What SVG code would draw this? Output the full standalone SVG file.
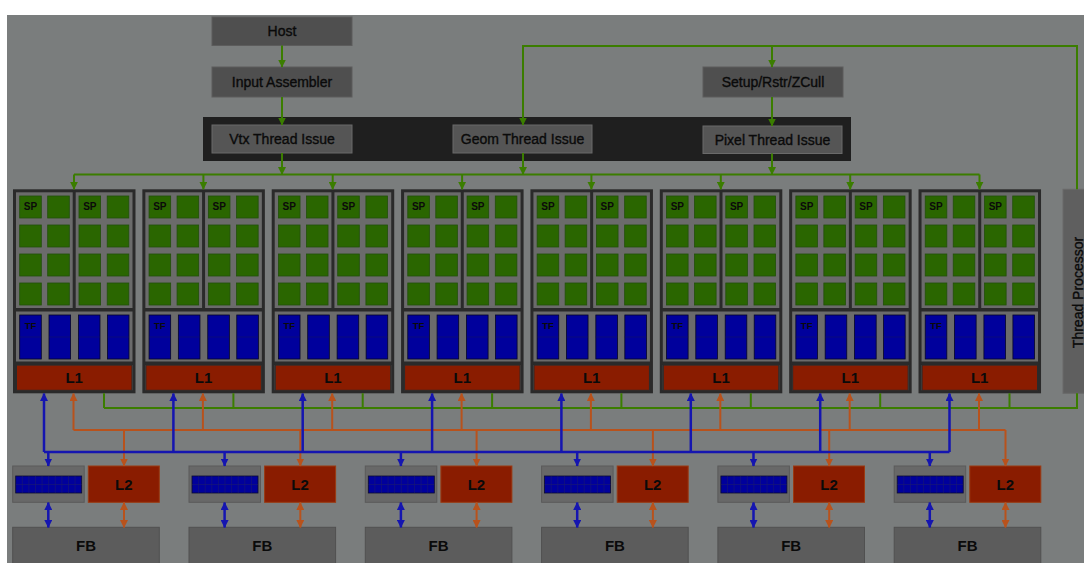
<svg xmlns="http://www.w3.org/2000/svg" xmlns:xlink="http://www.w3.org/1999/xlink" width="1084" height="563" viewBox="0 0 1084 563">
<style>
text{font-family:"Liberation Sans",Arial,sans-serif;fill:#0a0a0a;text-anchor:middle}
.lbl{font-size:14px;stroke:#0a0a0a;stroke-width:0.35}
.big{font-size:15px;font-weight:bold}
.sp{font-size:10px;font-weight:bold}
.tf{font-size:9.5px;font-weight:bold}
.box{fill:#4f4f4f;stroke:#5c5c5c;stroke-width:1}
.ibox{fill:#555;stroke:#6a6a6a;stroke-width:1}
.cell{fill:#2a6600;stroke:#22500a;stroke-width:0.8}
.tfb{fill:#00009c;stroke:#05052a;stroke-width:0.8}
.red{fill:#8a1c00;stroke:#9a3a12;stroke-width:1}
.g{fill:none;stroke:#3b7d00;stroke-width:2}
.b{fill:none;stroke:#1515b0;stroke-width:2.5}
.o{fill:none;stroke:#b8521c;stroke-width:2}
.ga{marker-end:url(#ag)}
.ba{marker-end:url(#ab)}
.oa{marker-end:url(#ao)}
.bd{marker-start:url(#ab);marker-end:url(#ab)}
.od{marker-start:url(#ao);marker-end:url(#ao)}
</style>
<defs>
<marker id="ag" viewBox="0 0 8 8" refX="7.5" refY="4" markerWidth="8" markerHeight="8" markerUnits="userSpaceOnUse" orient="auto-start-reverse"><path d="M0,0 L8,4 L0,8 z" fill="#3b7d00"/></marker>
<marker id="ab" viewBox="0 0 8 8" refX="7.5" refY="4" markerWidth="8" markerHeight="8" markerUnits="userSpaceOnUse" orient="auto-start-reverse"><path d="M0,0 L8,4 L0,8 z" fill="#1515b0"/></marker>
<marker id="ao" viewBox="0 0 8 8" refX="7.5" refY="4" markerWidth="8" markerHeight="8" markerUnits="userSpaceOnUse" orient="auto-start-reverse"><path d="M0,0 L8,4 L0,8 z" fill="#b8521c"/></marker>
<g id="cb">
<rect x="1.5" y="1.5" width="119.5" height="201" fill="#6b6b6b" stroke="#2a2a2a" stroke-width="3"/>
<line x1="61.2" y1="1.5" x2="61.2" y2="120.4" stroke="#2a2a2a" stroke-width="3"/>
<line x1="1.5" y1="120.4" x2="121" y2="120.4" stroke="#2a2a2a" stroke-width="3.5"/>
<line x1="1.5" y1="174" x2="121" y2="174" stroke="#2a2a2a" stroke-width="3.5"/>
<rect class="cell" x="6.7" y="6.7" width="21.6" height="22"/><rect class="cell" x="34.7" y="6.7" width="21.6" height="22"/><rect class="cell" x="66" y="6.7" width="21.6" height="22"/><rect class="cell" x="94.2" y="6.7" width="21.6" height="22"/>
<rect class="cell" x="6.7" y="35.7" width="21.6" height="22"/><rect class="cell" x="34.7" y="35.7" width="21.6" height="22"/><rect class="cell" x="66" y="35.7" width="21.6" height="22"/><rect class="cell" x="94.2" y="35.7" width="21.6" height="22"/>
<rect class="cell" x="6.7" y="64.7" width="21.6" height="22"/><rect class="cell" x="34.7" y="64.7" width="21.6" height="22"/><rect class="cell" x="66" y="64.7" width="21.6" height="22"/><rect class="cell" x="94.2" y="64.7" width="21.6" height="22"/>
<rect class="cell" x="6.7" y="93.7" width="21.6" height="22"/><rect class="cell" x="34.7" y="93.7" width="21.6" height="22"/><rect class="cell" x="66" y="93.7" width="21.6" height="22"/><rect class="cell" x="94.2" y="93.7" width="21.6" height="22"/>
<rect class="tfb" x="6.7" y="125.7" width="21.6" height="44"/><rect class="tfb" x="36" y="125.7" width="21.6" height="44"/><rect class="tfb" x="65.4" y="125.7" width="21.6" height="44"/><rect class="tfb" x="94.4" y="125.7" width="21.6" height="44"/>
<path d="M6.7,147.7h21.6M36,147.7h21.6M65.4,147.7h21.6M94.4,147.7h21.6" stroke="#10106a" stroke-width="0.6"/>
<rect x="3.5" y="175.8" width="115.5" height="25.2" fill="#8a1c00" stroke="#2a2a2a" stroke-width="1"/>
</g>
<g id="xb">
<rect x="0" y="466" width="71.5" height="36.3" fill="#686868" stroke="#5a5a5a"/>
<rect x="3" y="476" width="66" height="17" fill="#00009c" stroke="#0a0a30" stroke-width="0.8"/>
<path d="M9.6,476V493M16.2,476V493M22.8,476V493M29.4,476V493M36,476V493M42.6,476V493M49.2,476V493M55.8,476V493M62.4,476V493M3,484.5H69" stroke="#1a1a70" stroke-width="0.6"/>
</g>
</defs>
<rect x="0" y="0" width="1084" height="563" fill="#ffffff"/>
<rect x="7" y="15" width="1077" height="548" fill="#7a7d7d"/>

<g id="issue-band"><rect x="203" y="117" width="648" height="44" fill="#1f1f1f"/></g>
<g id="host"><rect class="box" x="212" y="17" width="140" height="28.5"/><text class="lbl" x="282" y="36">Host</text></g>
<g id="input-assembler"><rect class="box" x="212" y="67" width="140" height="30"/><text class="lbl" x="282" y="87">Input Assembler</text></g>
<g id="setup"><rect class="box" x="703" y="67" width="140" height="30"/><text class="lbl" x="773" y="87">Setup/Rstr/ZCull</text></g>
<g id="vtx-issue"><rect class="ibox" x="212" y="125" width="140" height="28"/><text class="lbl" x="282" y="144">Vtx Thread Issue</text></g>
<g id="geom-issue"><rect class="ibox" x="453" y="125" width="139" height="28"/><text class="lbl" x="522.5" y="144">Geom Thread Issue</text></g>
<g id="pixel-issue"><rect class="ibox" x="703" y="126" width="139" height="27.5"/><text class="lbl" x="772.5" y="144.5">Pixel Thread Issue</text></g>
<g id="thread-processor"><rect x="1063" y="189.3" width="26" height="204" fill="#5f5f5f" stroke="#6a6a6a"/><text class="lbl" transform="translate(1082.5,292.5) rotate(-90)">Thread Processor</text></g>

<g id="cluster1" transform="translate(13,189.3)"><use xlink:href="#cb"/><text class="sp" x="17.5" y="21.2">SP</text><text class="sp" x="76.8" y="21.2">SP</text><text class="tf" x="17.5" y="140">TF</text><text class="big" x="61.2" y="194">L1</text></g>
<g id="cluster2" transform="translate(142.36,189.3)"><use xlink:href="#cb"/><text class="sp" x="17.5" y="21.2">SP</text><text class="sp" x="76.8" y="21.2">SP</text><text class="tf" x="17.5" y="140">TF</text><text class="big" x="61.2" y="194">L1</text></g>
<g id="cluster3" transform="translate(271.72,189.3)"><use xlink:href="#cb"/><text class="sp" x="17.5" y="21.2">SP</text><text class="sp" x="76.8" y="21.2">SP</text><text class="tf" x="17.5" y="140">TF</text><text class="big" x="61.2" y="194">L1</text></g>
<g id="cluster4" transform="translate(401.08,189.3)"><use xlink:href="#cb"/><text class="sp" x="17.5" y="21.2">SP</text><text class="sp" x="76.8" y="21.2">SP</text><text class="tf" x="17.5" y="140">TF</text><text class="big" x="61.2" y="194">L1</text></g>
<g id="cluster5" transform="translate(530.44,189.3)"><use xlink:href="#cb"/><text class="sp" x="17.5" y="21.2">SP</text><text class="sp" x="76.8" y="21.2">SP</text><text class="tf" x="17.5" y="140">TF</text><text class="big" x="61.2" y="194">L1</text></g>
<g id="cluster6" transform="translate(659.8,189.3)"><use xlink:href="#cb"/><text class="sp" x="17.5" y="21.2">SP</text><text class="sp" x="76.8" y="21.2">SP</text><text class="tf" x="17.5" y="140">TF</text><text class="big" x="61.2" y="194">L1</text></g>
<g id="cluster7" transform="translate(789.16,189.3)"><use xlink:href="#cb"/><text class="sp" x="17.5" y="21.2">SP</text><text class="sp" x="76.8" y="21.2">SP</text><text class="tf" x="17.5" y="140">TF</text><text class="big" x="61.2" y="194">L1</text></g>
<g id="cluster8" transform="translate(918.52,189.3)"><use xlink:href="#cb"/><text class="sp" x="17.5" y="21.2">SP</text><text class="sp" x="76.8" y="21.2">SP</text><text class="tf" x="17.5" y="140">TF</text><text class="big" x="61.2" y="194">L1</text></g>

<g id="partition1" transform="translate(12.7,0)"><use xlink:href="#xb"/><rect class="red" x="75.6" y="466" width="71" height="36.3"/><text class="big" x="111.1" y="490">L2</text><rect x="0" y="527.3" width="146.6" height="37" fill="#5c5c5c" stroke="#505050"/><text class="big" x="73.3" y="550.5">FB</text></g>
<g id="partition2" transform="translate(189,0)"><use xlink:href="#xb"/><rect class="red" x="75.6" y="466" width="71" height="36.3"/><text class="big" x="111.1" y="490">L2</text><rect x="0" y="527.3" width="146.6" height="37" fill="#5c5c5c" stroke="#505050"/><text class="big" x="73.3" y="550.5">FB</text></g>
<g id="partition3" transform="translate(365.3,0)"><use xlink:href="#xb"/><rect class="red" x="75.6" y="466" width="71" height="36.3"/><text class="big" x="111.1" y="490">L2</text><rect x="0" y="527.3" width="146.6" height="37" fill="#5c5c5c" stroke="#505050"/><text class="big" x="73.3" y="550.5">FB</text></g>
<g id="partition4" transform="translate(541.6,0)"><use xlink:href="#xb"/><rect class="red" x="75.6" y="466" width="71" height="36.3"/><text class="big" x="111.1" y="490">L2</text><rect x="0" y="527.3" width="146.6" height="37" fill="#5c5c5c" stroke="#505050"/><text class="big" x="73.3" y="550.5">FB</text></g>
<g id="partition5" transform="translate(717.9,0)"><use xlink:href="#xb"/><rect class="red" x="75.6" y="466" width="71" height="36.3"/><text class="big" x="111.1" y="490">L2</text><rect x="0" y="527.3" width="146.6" height="37" fill="#5c5c5c" stroke="#505050"/><text class="big" x="73.3" y="550.5">FB</text></g>
<g id="partition6" transform="translate(894.2,0)"><use xlink:href="#xb"/><rect class="red" x="75.6" y="466" width="71" height="36.3"/><text class="big" x="111.1" y="490">L2</text><rect x="0" y="527.3" width="146.6" height="37" fill="#5c5c5c" stroke="#505050"/><text class="big" x="73.3" y="550.5">FB</text></g>

<g id="connectors">
<path class="g ga" d="M282,45.5V67"/>
<path class="g ga" d="M282,97V125"/>
<path class="g ga" d="M772,97V126"/>
<path class="g ga" d="M772,46V67"/>
<path class="g ga" d="M1077,189.3V46H523V125"/>
<path class="g ga" d="M282,153V174.5"/>
<path class="g ga" d="M523,153V174.5"/>
<path class="g ga" d="M772,153.5V174.5"/>
<path class="g" d="M74,174.5H979.5"/>
<path class="g ga" d="M74,174.5V189.3"/><path class="g ga" d="M203.4,174.5V189.3"/><path class="g ga" d="M332.7,174.5V189.3"/><path class="g ga" d="M462.1,174.5V189.3"/><path class="g ga" d="M591.4,174.5V189.3"/><path class="g ga" d="M720.8,174.5V189.3"/><path class="g ga" d="M850.2,174.5V189.3"/><path class="g ga" d="M979.5,174.5V189.3"/>
<path class="g" d="M104,408H1077V393.3"/>
<path class="g" d="M104,393.3V408M233.4,393.3V408M362.7,393.3V408M492.1,393.3V408M621.4,393.3V408M750.8,393.3V408M880.2,393.3V408M1009.5,393.3V408"/>
<path class="o" d="M73.5,430H1005.5"/>
<path class="o oa" d="M73.5,430V393.5"/><path class="o oa" d="M202.9,430V393.5"/><path class="o oa" d="M332.2,430V393.5"/><path class="o oa" d="M461.6,430V393.5"/><path class="o oa" d="M590.9,430V393.5"/><path class="o oa" d="M720.3,430V393.5"/><path class="o oa" d="M849.7,430V393.5"/><path class="o oa" d="M979,430V393.5"/>
<path class="o oa" d="M124,430V466"/><path class="o oa" d="M300.3,430V466"/><path class="o oa" d="M476.6,430V466"/><path class="o oa" d="M652.9,430V466"/><path class="o oa" d="M829.2,430V466"/><path class="o oa" d="M1005.5,430V466"/>
<path class="o od" d="M124,502.5V527.5"/><path class="o od" d="M300.3,502.5V527.5"/><path class="o od" d="M476.6,502.5V527.5"/><path class="o od" d="M652.9,502.5V527.5"/><path class="o od" d="M829.2,502.5V527.5"/><path class="o od" d="M1005.5,502.5V527.5"/>
<path class="b" d="M44,452H949.5"/>
<path class="b ba" d="M44,452V393.5"/><path class="b ba" d="M173.4,452V393.5"/><path class="b ba" d="M302.7,452V393.5"/><path class="b ba" d="M432.1,452V393.5"/><path class="b ba" d="M561.4,452V393.5"/><path class="b ba" d="M690.8,452V393.5"/><path class="b ba" d="M820.2,452V393.5"/><path class="b ba" d="M949.5,452V393.5"/>
<path class="b ba" d="M48.3,452V466"/><path class="b ba" d="M224.6,452V466"/><path class="b ba" d="M400.9,452V466"/><path class="b ba" d="M577.2,452V466"/><path class="b ba" d="M753.5,452V466"/><path class="b ba" d="M929.8,452V466"/>
<path class="b bd" d="M48.3,502.5V527.5"/><path class="b bd" d="M224.6,502.5V527.5"/><path class="b bd" d="M400.9,502.5V527.5"/><path class="b bd" d="M577.2,502.5V527.5"/><path class="b bd" d="M753.5,502.5V527.5"/><path class="b bd" d="M929.8,502.5V527.5"/>
</g>
</svg>
